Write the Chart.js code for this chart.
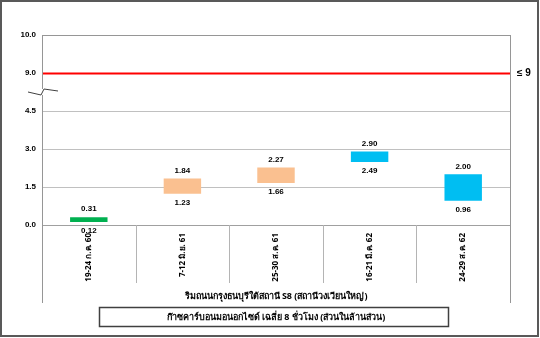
<!DOCTYPE html>
<html>
<head>
<meta charset="utf-8">
<script src="https://cdn.jsdelivr.net/npm/chart.js@4/dist/chart.umd.min.js"></script>
<style>
  html, body { margin: 0; padding: 0; background: #fff; }
  #wrap { width: 540px; height: 338px; position: relative; }
</style>
</head>
<body>
<div id="wrap"><canvas id="co" width="540" height="338"></canvas></div>
<script>
// data
const periods = ['19-24 ก.ค. 60', '7-12 มิ.ย. 61', '25-30 ส.ค. 61', '16-21 มี.ค. 62', '24-29 ส.ค. 62'];
const lows = [0.12, 1.23, 1.66, 2.49, 0.96];
const highs = [0.31, 1.84, 2.27, 2.90, 2.00];
const barColors = ['#00B050', '#FAC090', '#FAC090', '#00BEF2', '#00BEF2'];
const yTickLabels = ['0.0', '1.5', '3.0', '4.5', '9.0', '10.0'];
const limit = 9;
const xTitle = 'ริมถนนกรุงธนบุรีใต้สถานี S8 (สถานีวงเวียนใหญ่)';
const legendText = 'ก๊าซคาร์บอนมอนอกไซด์ เฉลี่ย 8 ชั่วโมง (ส่วนในล้านส่วน)';

const thaiFont = "'Noto Sans', 'DejaVu Sans', 'Liberation Sans', sans-serif";
const numFont = "'Liberation Sans', Arial, sans-serif";

// broken axis: 0..4.5 is linear, then 9..10 sits above the break
function toAxis(v) {
  return v <= 4.5 ? v : 6 + (v - 9) * 1.5;
}

const extras = {
  id: 'extras',
  afterDatasetsDraw(chart) {
    const ctx = chart.ctx;
    const area = chart.chartArea;
    const x = chart.scales.x;
    const y = chart.scales.y;
    ctx.save();

    // value labels above / below each bar
    ctx.font = 'bold 8px ' + numFont;
    ctx.fillStyle = '#000';
    ctx.textAlign = 'center';
    ctx.textBaseline = 'middle';
    chart.getDatasetMeta(0).data.forEach((bar, i) => {
      const top = Math.min(bar.y, bar.base);
      const bottom = Math.max(bar.y, bar.base);
      ctx.fillText(highs[i].toFixed(2), bar.x, top - 8);
      ctx.fillText(lows[i].toFixed(2), bar.x, bottom + 9);
    });

    // standard line
    const ly = Math.round(y.getPixelForValue(toAxis(limit))) + 0.5;
    ctx.strokeStyle = '#FF0000';
    ctx.lineWidth = 2;
    ctx.beginPath();
    ctx.moveTo(area.left, ly);
    ctx.lineTo(area.right, ly);
    ctx.stroke();
    ctx.font = 'bold 10px ' + numFont;
    ctx.textAlign = 'left';
    ctx.fillText('≤ 9', area.right + 7, ly);

    // frame lines: top, left, right extended into the label band
    const tableBottom = 303;
    ctx.strokeStyle = '#969696';
    ctx.lineWidth = 1;
    ctx.beginPath();
    ctx.moveTo(area.left, area.top + 0.5);
    ctx.lineTo(area.right, area.top + 0.5);
    ctx.moveTo(area.left + 0.5, area.top);
    ctx.lineTo(area.left + 0.5, tableBottom);
    ctx.moveTo(area.right + 0.5, area.top);
    ctx.lineTo(area.right + 0.5, tableBottom);
    ctx.stroke();

    // category separators under the axis
    ctx.strokeStyle = '#b4b4b4';
    ctx.beginPath();
    for (let i = 1; i < periods.length; i++) {
      const px = Math.round((x.getPixelForValue(i - 1) + x.getPixelForValue(i)) / 2) + 0.5;
      ctx.moveTo(px, area.bottom);
      ctx.lineTo(px, 283);
    }
    ctx.stroke();

    // axis break marker
    const by = Math.round((y.getPixelForValue(4.5) + y.getPixelForValue(6)) / 2);
    ctx.fillStyle = '#fff';
    ctx.fillRect(area.left - 2, by - 3, 5, 6);
    ctx.strokeStyle = '#404040';
    ctx.beginPath();
    ctx.moveTo(area.left - 14, by);
    ctx.lineTo(area.left - 1, by + 3);
    ctx.lineTo(area.left + 2, by - 3);
    ctx.lineTo(area.left + 16, by - 1);
    ctx.stroke();

    // x title and legend box
    ctx.fillStyle = '#000';
    ctx.textAlign = 'center';
    ctx.font = 'bold 9px ' + thaiFont;
    const cx = (area.left + area.right) / 2;
    ctx.fillText(xTitle, cx, 296);
    ctx.strokeStyle = '#404040';
    ctx.lineWidth = 1.5;
    ctx.strokeRect(99.5, 307.5, 349, 19);
    ctx.fillText(legendText, cx, 317);

    // outer frame
    ctx.strokeStyle = '#595959';
    ctx.lineWidth = 2;
    ctx.strokeRect(1, 1, 537, 335);
    ctx.restore();
  }
};

const ctx = document.getElementById('co').getContext('2d');
new Chart(ctx, {
  type: 'bar',
  data: {
    labels: periods,
    datasets: [{
      data: lows.map((lo, i) => [toAxis(lo), toAxis(highs[i])]),
      backgroundColor: barColors,
      borderWidth: 0,
      barPercentage: 0.4,
      categoryPercentage: 1
    }]
  },
  options: {
    responsive: false,
    animation: false,
    layout: { padding: { left: 0, right: 30, top: 35, bottom: 0 } },
    plugins: {
      legend: { display: false },
      tooltip: { enabled: false }
    },
    scales: {
      x: {
        grid: { drawOnChartArea: false, drawTicks: false },
        border: { color: '#a0a0a0' },
        ticks: {
          minRotation: 90,
          maxRotation: 90,
          padding: 8,
          color: '#000',
          font: { family: thaiFont, size: 8, weight: 'bold' }
        },
        afterFit(scale) { scale.height = 113; }
      },
      y: {
        min: 0,
        max: 7.5,
        grid: { color: '#c0c0c0', drawTicks: false },
        border: { color: '#969696' },
        ticks: {
          stepSize: 1.5,
          padding: 6,
          color: '#000',
          font: { family: numFont, size: 8, weight: 'bold' },
          callback: (v, i) => yTickLabels[i]
        },
        afterFit(scale) { scale.width = 42; }
      }
    }
  },
  plugins: [extras]
});
</script>
</body>
</html>
